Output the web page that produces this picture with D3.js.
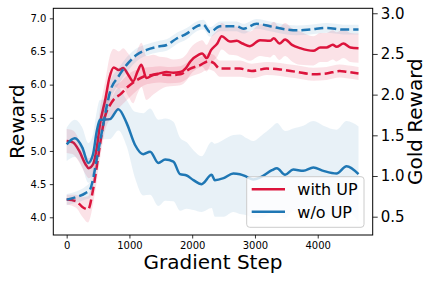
<!DOCTYPE html>
<html>
<head>
<meta charset="utf-8">
<script src="https://cdn.jsdelivr.net/npm/d3@7"></script>
<style>
  body { margin: 0; background: #fff; }
  svg text { font-family: "DejaVu Sans", sans-serif; fill: #000; }
</style>
</head>
<body>
<div id="chart"></div>
<script>
// with UP, reward (left axis, solid)
const rSolidStep = [0,100,200,300,350,420,480,530,620,680,750,830,900,980,1060,1130,1190,1270,1380,1480,1590,1700,1810,1900,1970,2100,2160,2230,2300,2400,2470,2600,2710,2800,2920,3080,3240,3300,3390,3480,3590,3720,3930,4040,4140,4240,4300,4410,4520,4650];
const rSolidVal = [5.15,5.13,5.0,4.8,4.74,4.80,5.05,5.40,5.80,6.1,6.26,6.22,6.25,6.15,6.05,6.2,6.3,6.1,6.15,6.17,6.19,6.18,6.19,6.25,6.35,6.45,6.47,6.40,6.52,6.62,6.73,6.65,6.66,6.62,6.58,6.67,6.66,6.70,6.62,6.68,6.60,6.55,6.51,6.56,6.56,6.60,6.57,6.62,6.56,6.55];
const rSolidSd  = [0.18,0.18,0.17,0.15,0.15,0.15,0.18,0.22,0.28,0.3,0.28,0.28,0.3,0.32,0.33,0.33,0.33,0.33,0.3,0.25,0.22,0.2,0.2,0.2,0.2,0.2,0.2,0.2,0.2,0.2,0.2,0.2,0.22,0.22,0.22,0.24,0.25,0.25,0.25,0.25,0.25,0.25,0.22,0.22,0.22,0.22,0.22,0.22,0.22,0.22];

// w/o UP, reward (left axis, solid)
const bSolidStep = [0,130,250,344,420,480,530,690,823,956,1090,1220,1330,1460,1570,1700,1806,1912,2020,2150,2310,2360,2500,2655,2760,2870,2970,3100,3270,3350,3480,3610,3770,3930,4090,4300,4460,4650];
const bSolidVal = [5.10,5.19,5.05,4.82,4.95,5.30,5.47,5.48,5.63,5.42,5.09,4.95,4.99,4.82,4.87,4.84,4.65,4.63,4.56,4.50,4.64,4.56,4.59,4.66,4.65,4.61,4.57,4.61,4.71,4.74,4.64,4.72,4.70,4.75,4.70,4.66,4.77,4.65];
const bSolidSd  = [0.25,0.28,0.3,0.3,0.3,0.3,0.3,0.3,0.32,0.35,0.5,0.62,0.65,0.65,0.62,0.6,0.55,0.5,0.45,0.42,0.5,0.55,0.58,0.58,0.6,0.58,0.58,0.62,0.65,0.68,0.66,0.62,0.68,0.7,0.68,0.66,0.68,0.72];

// with UP, gold reward (right axis, dashed)
const rDashStep = [0,150,250,340,420,480,530,610,690,760,850,980,1120,1220,1360,1490,1650,1810,1970,2120,2260,2340,2440,2550,2760,2950,3190,3400,3660,3930,4140,4350,4460,4650];
const rDashVal = [0.71,0.69,0.62,0.59,0.83,1.12,1.38,1.73,1.87,1.95,2.0,2.10,2.18,2.22,2.24,2.25,2.24,2.25,2.32,2.36,2.41,2.39,2.32,2.32,2.32,2.29,2.32,2.31,2.28,2.25,2.26,2.29,2.28,2.26];
const rDashSd  = [0.06,0.08,0.12,0.16,0.18,0.18,0.18,0.18,0.17,0.16,0.15,0.15,0.13,0.11,0.1,0.1,0.1,0.1,0.1,0.1,0.1,0.1,0.1,0.1,0.1,0.09,0.08,0.08,0.08,0.08,0.08,0.08,0.08,0.08];

// w/o UP, gold reward (right axis, dashed)
const bDashStep = [0,150,300,370,430,478,558,637,690,823,982,1116,1275,1460,1594,1753,1912,2072,2177,2284,2443,2709,2815,3028,3240,3506,3665,3877,4143,4409,4650];
const bDashVal = [0.71,0.74,0.79,0.83,1.0,1.2,1.53,1.85,2.03,2.22,2.39,2.49,2.55,2.59,2.61,2.69,2.75,2.84,2.86,2.77,2.84,2.84,2.81,2.87,2.84,2.80,2.79,2.80,2.82,2.80,2.80];
const bDashSd  = [0.07,0.07,0.08,0.1,0.12,0.12,0.12,0.12,0.12,0.1,0.09,0.08,0.07,0.07,0.07,0.07,0.07,0.06,0.06,0.06,0.06,0.06,0.06,0.06,0.06,0.06,0.06,0.06,0.06,0.06,0.06];

const xTicks = [0,1000,2000,3000,4000];
const leftTicks = [4.0,4.5,5.0,5.5,6.0,6.5,7.0];
const rightTicks = [0.5,1.0,1.5,2.0,2.5,3.0];
const legendNames = ["with UP","w/o UP"];

const red = "#dc143c", blue = "#1f77b4";
const width = 434, height = 282;
const L = 53.3, R = 372.7, T = 8.3, B = 235;

let svg = d3.select("#chart").append("svg")
    .attr("width", width)
    .attr("height", height);

let x = d3.scaleLinear().domain([-213, 4876]).range([L, R]);
let yL = d3.scaleLinear().domain([3.733, 7.151]).range([B, T]);
let yR = d3.scaleLinear().domain([0.275, 3.061]).range([B, T]);

function pack(steps, vals, sds) {
    return steps.map((s, i) => ({s: s, v: vals[i], sd: sds[i]}));
}

function drawSeries(data, y, color, dashed, bandOpacity) {
    let area = d3.area()
        .x(d => x(d.s))
        .y0(d => y(d.v - d.sd))
        .y1(d => y(d.v + d.sd))
        .curve(d3.curveMonotoneX);
    let line = d3.line()
        .x(d => x(d.s))
        .y(d => y(d.v))
        .curve(d3.curveMonotoneX);
    svg.append("path").attr("d", area(data))
        .attr("fill", color).attr("fill-opacity", bandOpacity).attr("stroke", "none");
    svg.append("path").attr("d", line(data))
        .attr("fill", "none").attr("stroke", color).attr("stroke-width", 2.5)
        .attr("stroke-dasharray", dashed ? "9,4" : null);
}

drawSeries(pack(rSolidStep, rSolidVal, rSolidSd), yL, red, false, 0.12);
drawSeries(pack(bSolidStep, bSolidVal, bSolidSd), yL, blue, false, 0.1);
drawSeries(pack(rDashStep, rDashVal, rDashSd), yR, red, true, 0.12);
drawSeries(pack(bDashStep, bDashVal, bDashSd), yR, blue, true, 0.1);

// axes
let gx = svg.append("g").attr("transform", `translate(0,${B})`)
    .call(d3.axisBottom(x).tickValues(xTicks).tickFormat(d3.format("d")).tickSize(3.5).tickPadding(3.5).tickSizeOuter(0));
let gl = svg.append("g").attr("transform", `translate(${L},0)`)
    .call(d3.axisLeft(yL).tickValues(leftTicks).tickFormat(d3.format(".1f")).tickSize(3.5).tickPadding(3.5).tickSizeOuter(0));
let gr = svg.append("g").attr("transform", `translate(${R},0)`)
    .call(d3.axisRight(yR).tickValues(rightTicks).tickFormat(d3.format(".1f")).tickSize(5).tickPadding(3).tickSizeOuter(0));
[gx, gl].forEach(g => g.selectAll("text").style("font-size", "10px"));
gr.selectAll("text").style("font-size", "15px");
[gx, gl, gr].forEach(g => {
    g.select(".domain").remove();
    g.selectAll("line").attr("stroke", "#000").attr("stroke-width", 0.8);
});

// frame
svg.append("rect").attr("x", L).attr("y", T).attr("width", R - L).attr("height", B - T)
    .attr("fill", "none").attr("stroke", "#000").attr("stroke-width", 1);

// labels
svg.append("text").attr("x", (L + R) / 2).attr("y", 269)
    .attr("text-anchor", "middle").style("font-size", "20px").text("Gradient Step");
svg.append("text").attr("transform", `translate(24,${(T + B) / 2}) rotate(-90)`)
    .attr("text-anchor", "middle").style("font-size", "20px").text("Reward");
svg.append("text").attr("transform", `translate(422,${(T + B) / 2}) rotate(-90)`)
    .attr("text-anchor", "middle").style("font-size", "20px").text("Gold Reward");

// legend
let lg = svg.append("g");
lg.append("rect").attr("x", 246.7).attr("y", 176.7).attr("width", 117.3).attr("height", 50.6)
    .attr("rx", 3).attr("fill", "#fff").attr("fill-opacity", 0.8)
    .attr("stroke", "#cccccc").attr("stroke-width", 1);
[red, blue].forEach((c, i) => {
    let yy = 189.3 + i * 22.4;
    lg.append("line").attr("x1", 251.7).attr("x2", 285).attr("y1", yy).attr("y2", yy)
        .attr("stroke", c).attr("stroke-width", 2.5);
    lg.append("text").attr("x", 297.3).attr("y", yy + 5.8)
        .style("font-size", "16px").text(legendNames[i]);
});
</script>
</body>
</html>
